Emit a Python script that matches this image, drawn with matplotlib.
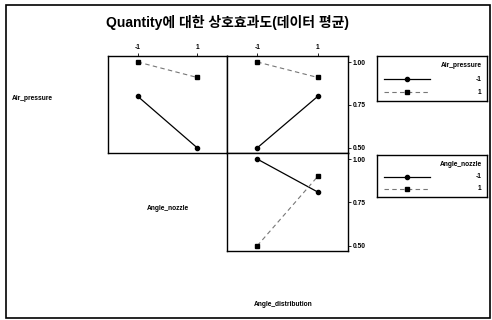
import matplotlib
matplotlib.use("Agg")
import matplotlib.pyplot as plt
from matplotlib.patches import Rectangle

plt.rcParams['font.family'] = ['Liberation Sans', 'Noto Sans CJK KR', 'DejaVu Sans']

# factor levels
levels = [-1, 1]
level_labels = ["-1", "1"]

# means of Quantity
air_m1_by_nozzle = [0.80, 0.50]
air_p1_by_nozzle = [1.00, 0.91]
air_m1_by_dist = [0.50, 0.80]
air_p1_by_dist = [1.00, 0.91]
nozzle_m1_by_dist = [1.00, 0.81]
nozzle_p1_by_dist = [0.50, 0.90]

y_ticks = [0.50, 0.75, 1.00]
y_tick_labels = ["0.50", "0.75", "1.00"]

W, H = 492, 320
fig = plt.figure(figsize=(W / 100, H / 100), dpi=100)


def px(x0, y0, x1, y1):
    return [x0 / W, 1 - y1 / H, (x1 - x0) / W, (y1 - y0) / H]


fs = 4.8


def panel(rect, s_m1, s_p1, top_ticks, right_ticks):
    ax = fig.add_axes(rect)
    ax.plot(levels, s_m1, color="black", lw=0.9, marker="o", ms=3)
    ax.plot(levels, s_p1, color="#777777", lw=0.8, ls=(0, (4, 3)),
            marker="s", ms=3, mfc="black", mec="black")
    ax.set_xlim(-2, 2)
    ax.set_ylim(0.47, 1.035)
    ax.xaxis.set_ticks_position("top")
    if top_ticks:
        ax.set_xticks(levels)
        ax.set_xticklabels(level_labels, fontsize=fs, fontweight="bold")
    else:
        ax.set_xticks([])
    ax.yaxis.set_ticks_position("right")
    if right_ticks:
        ax.set_yticks(y_ticks)
        ax.set_yticklabels(y_tick_labels, fontsize=fs, fontweight="bold")
    else:
        ax.set_yticks([])
    ax.tick_params(length=2, width=0.6, pad=1.5)
    for s in ax.spines.values():
        s.set_linewidth(1.0)
    return ax


panel(px(108, 56, 227, 153), air_m1_by_nozzle, air_p1_by_nozzle, True, False)
panel(px(227, 56, 348, 153), air_m1_by_dist, air_p1_by_dist, True, True)
panel(px(227, 153, 348, 251), nozzle_m1_by_dist, nozzle_p1_by_dist, False, True)


# legends
def legend_box(x0, y0, x1, y1, title):
    lax = fig.add_axes(px(x0, y0, x1, y1))
    lax.set_xlim(0, 1)
    lax.set_ylim(0, 1)
    lax.set_xticks([])
    lax.set_yticks([])
    for s in lax.spines.values():
        s.set_linewidth(1.0)
    lax.text(0.95, 0.78, title, ha="right", va="center", fontsize=fs, fontweight="bold")
    lax.plot([0.06, 0.48], [0.48, 0.48], color="black", lw=0.9)
    lax.plot([0.27], [0.48], "o", color="black", ms=3)
    lax.plot([0.06, 0.48], [0.2, 0.2], color="#777777", lw=0.8, ls=(0, (4, 3)))
    lax.plot([0.27], [0.2], "s", color="black", ms=3)
    lax.text(0.95, 0.48, level_labels[0], ha="right", va="center", fontsize=fs, fontweight="bold")
    lax.text(0.95, 0.2, level_labels[1], ha="right", va="center", fontsize=fs, fontweight="bold")


legend_box(377, 56, 487, 101, "Air_pressure")
legend_box(377, 155, 487, 197, "Angle_nozzle")

# factor labels
fig.text(12 / W, 1 - 98 / H, "Air_pressure", fontsize=fs, fontweight="bold", va="center")
fig.text(168 / W, 1 - 208 / H, "Angle_nozzle", fontsize=fs, fontweight="bold", va="center", ha="center")
fig.text(283 / W, 1 - 304 / H, "Angle_distribution", fontsize=fs, fontweight="bold", va="center", ha="center")

fig.text(228 / W, 1 - 22 / H, "Quantity에 대한 상호효과도(데이터 평균)", fontsize=10,
         fontweight="bold", ha="center", va="center")

fig.patches.append(Rectangle((6 / W, 2 / H), 484 / W, 313 / H, transform=fig.transFigure,
                             fill=False, lw=1.2, ec="black"))

fig.savefig("out.png", dpi=100)
